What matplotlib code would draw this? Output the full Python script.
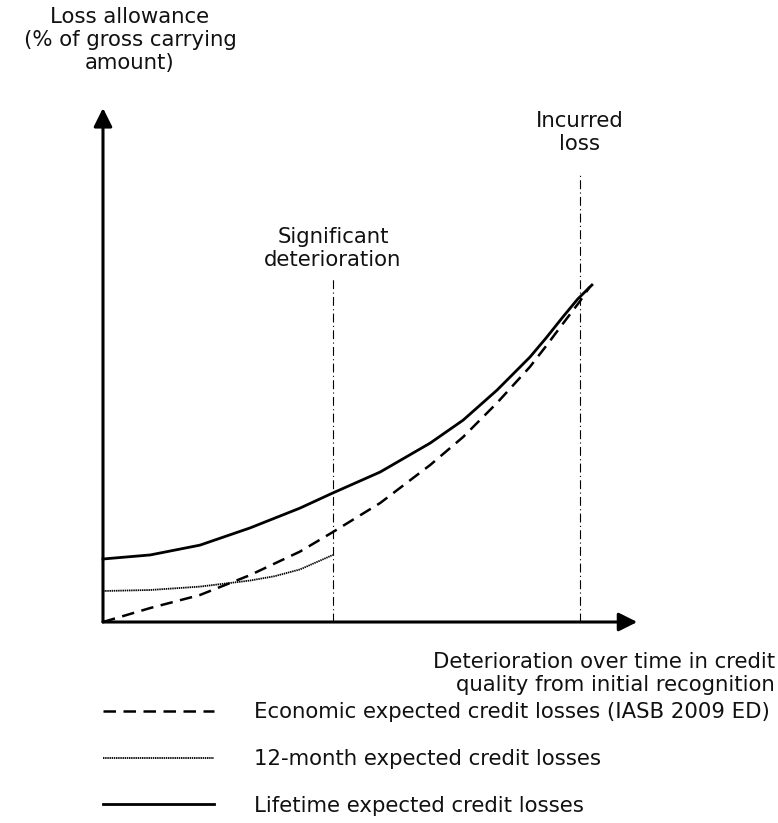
import matplotlib
matplotlib.use("Agg")
import matplotlib.pyplot as plt
from matplotlib.patches import FancyArrowPatch

# ---- data (conceptual curves) ----
x_life = [0, 0.99, 2.03, 3.08, 4.13, 4.82, 5.81, 6.86, 7.55, 8.26, 8.95, 9.29, 9.64, 9.95, 10.25]
y_life = [18.7, 19.9, 22.8, 27.9, 33.8, 38.3, 44.5, 53.1, 59.9, 68.8, 78.6, 84.3, 90.5, 95.8, 100]

x_econ = [0, 0.99, 2.03, 3.08, 4.13, 4.82, 5.81, 6.86, 7.55, 8.26, 8.95, 9.29, 9.64, 10.0, 10.2]
y_econ = [0, 4.15, 8.0, 13.9, 20.9, 26.7, 35.3, 46.6, 54.9, 65.0, 75.7, 81.9, 88.5, 95.2, 99.4]

x_12m = [0, 0.99, 2.03, 3.08, 3.6, 4.13, 4.82]
y_12m = [9.2, 9.5, 10.5, 12.3, 13.6, 15.6, 19.9]

events = ["Significant\ndeterioration", "Incurred\nloss"]
event_x = [4.82, 10.0]
event_top = [102.4, 132.6]
label_gap = [2.0, 6.3]

legend_labels = ["Economic expected credit losses (IASB 2009 ED)",
                 "12-month expected credit losses",
                 "Lifetime expected credit losses"]
y_title = "Loss allowance\n(% of gross carrying\namount)"
x_title = "Deterioration over time in credit\nquality from initial recognition"

FS = 15.3
LS = 1.2
TXT = "#111111"
fig = plt.figure(figsize=(7.78, 8.23), dpi=100)
ax = fig.add_axes([0, 0, 1, 1])
ax.set_xlim(-2.159, 14.151)
ax.set_ylim(-59.64, 184.57)
ax.axis("off")

# event lines
for lab, ex, et, gap in zip(events, event_x, event_top, label_gap):
    ax.plot([ex, ex], [0, et], color="black", lw=0.8, linestyle=(0, (8, 3, 1, 3)))
    ax.text(ex, et + gap, lab, ha="center", va="bottom", fontsize=FS, linespacing=LS, color=TXT)

h1, = ax.plot(x_econ, y_econ, color="black", lw=1.8, linestyle=(0, (5, 3)))
h2, = ax.plot(x_12m, y_12m, color="black", lw=1.3, linestyle=(0, (0.8, 0.4)))
h3, = ax.plot(x_life, y_life, color="black", lw=2.0)

# axes arrows
for end in [(11.2, 0), (0, 152.5)]:
    arr = FancyArrowPatch((0, 0), end, arrowstyle="-|>", mutation_scale=28,
                          lw=2.2, color="black", shrinkA=0, shrinkB=0)
    ax.add_patch(arr)

ax.text(130 / 778, 1 - 7 / 823, y_title, transform=ax.transAxes, ha="center", va="top",
        fontsize=FS, linespacing=LS, color=TXT)
ax.text(775 / 778, 1 - 652 / 823, x_title, transform=ax.transAxes, ha="right", va="top",
        fontsize=FS, linespacing=LS, color=TXT)

leg = ax.legend([h1, h2, h3], legend_labels, loc="center left",
                bbox_to_anchor=(103 / 778, 1 - 759 / 823), frameon=False, fontsize=FS,
                handlelength=110 / 21, handletextpad=39 / 21, labelspacing=1.25,
                borderpad=0, borderaxespad=0, labelcolor=TXT)

fig.savefig("out.png", dpi=100)
